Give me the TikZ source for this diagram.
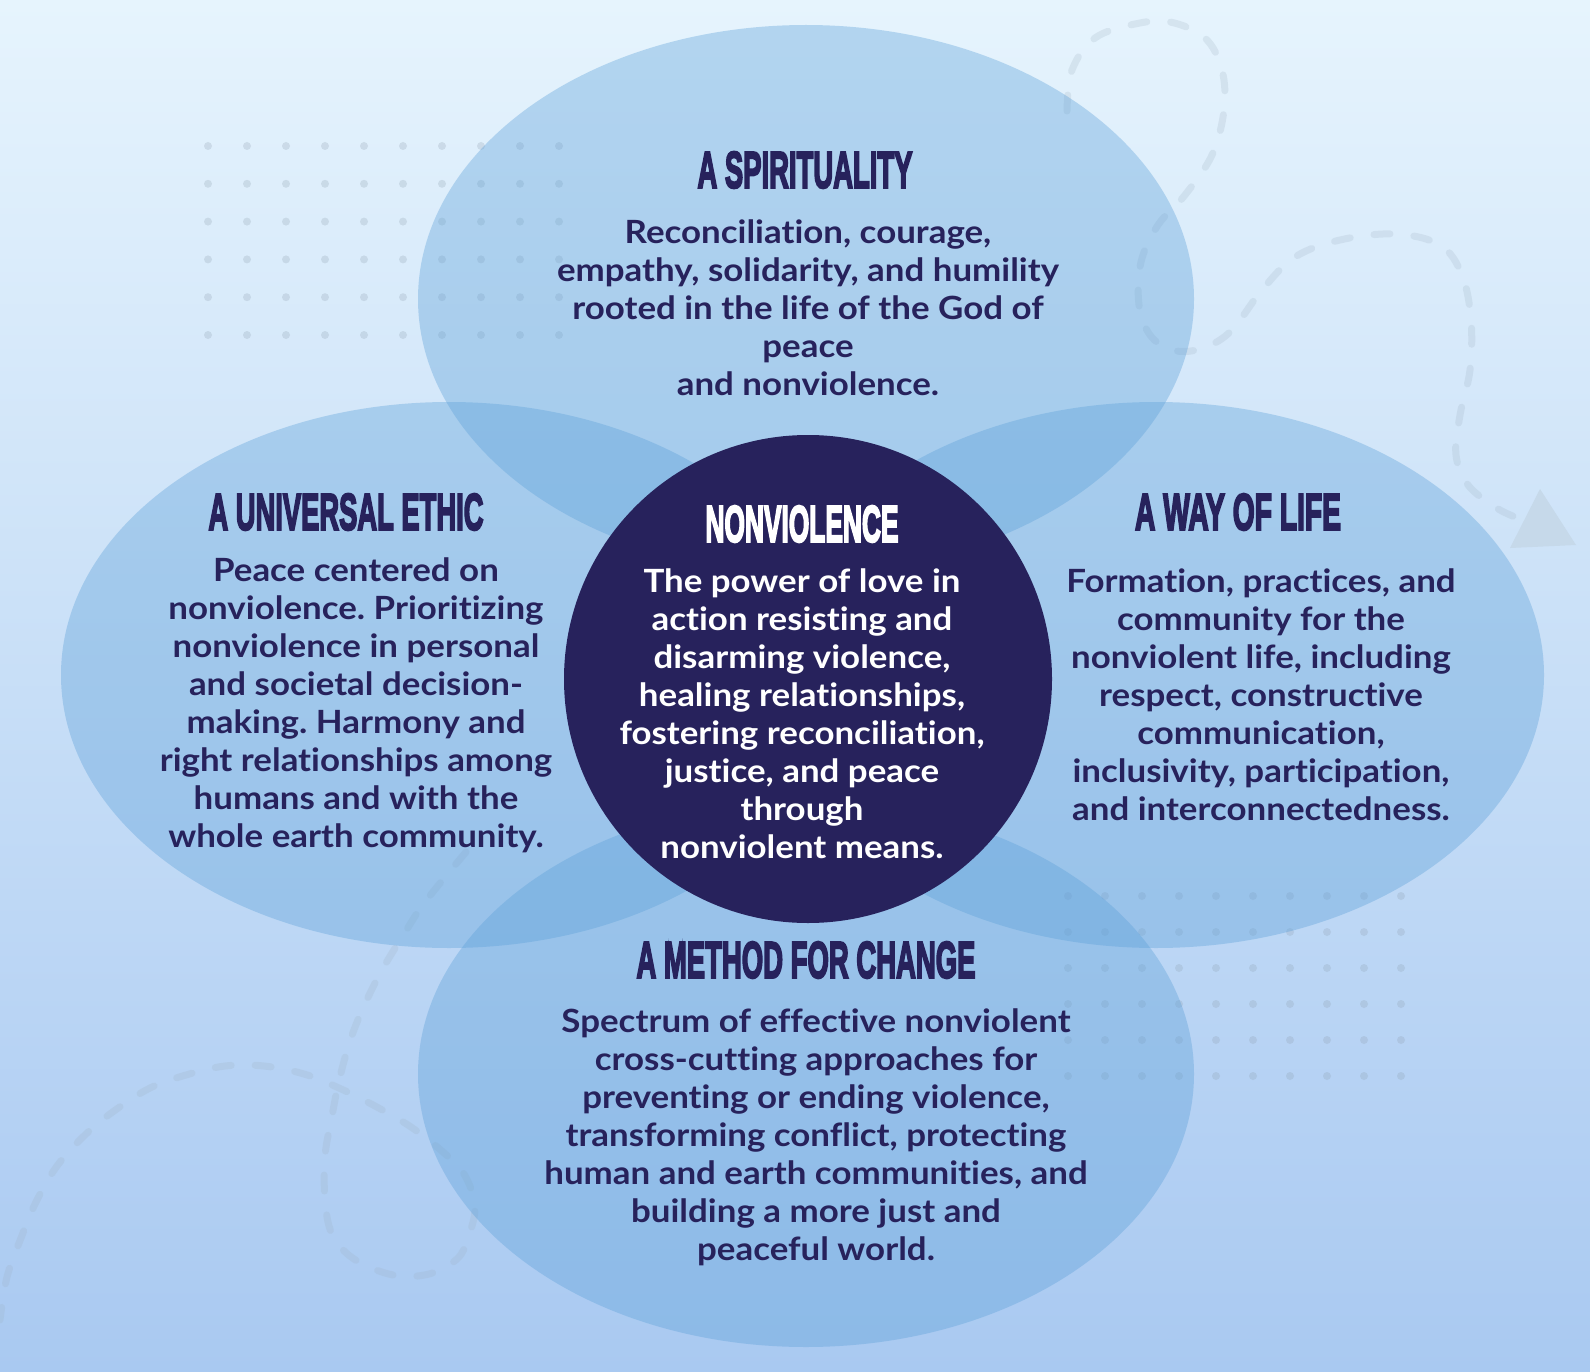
\documentclass[tikz,border=0pt]{standalone}
\usepackage{fontspec}
\usepackage{graphicx}
\setmainfont{Lato}[FakeStretch=1.09, Ligatures={NoCommon}]
\newfontfamily\headfont{Liberation Sans}[BoldFeatures={FakeBold=4.5}]
\frenchspacing
\definecolor{bgtop}{HTML}{E6F4FD}
\definecolor{bgbot}{HTML}{A9C9F1}
\definecolor{navy}{HTML}{27225C}
\definecolor{vennc}{HTML}{5A9FD8}
\definecolor{dashc}{HTML}{9DB0C0}
\definecolor{dotc}{HTML}{8E9FAF}
\definecolor{tric}{HTML}{C6D9EA}
\newcommand\hd[2]{\resizebox{#1}{36pt}{\headfont\bfseries #2}}
\tikzset{
  venn/.style={fill=vennc, fill opacity=0.36},
  dashpath/.style={draw=dashc, draw opacity=0.22, line width=7pt, line cap=round, dash pattern=on 16pt off 24pt},
  headtxt/.style={inner sep=0pt, text=navy, anchor=center},
  body/.style={font=\fontsize{32}{38}\selectfont\bfseries\frenchspacing, text=navy, align=center, inner sep=0pt, anchor=base},
  bgdot/.style={fill=dotc, fill opacity=0.25}
}
\begin{document}
\begin{tikzpicture}[x=1pt,y=-1pt]
\useasboundingbox (0,0) rectangle (1590,1372);
\shade[top color=bgtop, bottom color=bgbot] (0,0) rectangle (1590,1372);

% dashed decorative paths
\draw[dashpath] plot[smooth, tension=0.6] coordinates {(1067,111) (1072,70) (1095,38) (1135,24) (1170,22) (1205,38) (1222,70) (1224,110) (1212,155) (1185,195) (1158,225) (1141,262) (1139,305) (1150,335) (1172,350) (1200,349) (1230,332) (1262,290) (1295,257) (1340,240) (1395,234) (1440,245) (1462,275) (1471,320) (1470,370) (1460,415) (1456,455) (1468,485) (1495,507) (1515,517)};
\draw[dashpath] plot[smooth, tension=0.6] coordinates {(466,852) (425,902) (404,934) (382,970) (364,1006) (350,1041) (339,1081) (332,1116) (325,1156) (325,1199) (332,1234) (354,1259) (393,1275) (429,1274) (457,1259) (468,1238) (475,1206) (464,1174) (443,1152) (411,1127) (375,1106) (339,1088) (304,1074) (264,1066) (225,1066) (186,1075) (150,1088) (114,1111) (86,1134) (57,1166) (36,1202) (21,1238) (7,1277) (0,1320)};
\fill[tric] (1540,489) -- (1576,545) -- (1510,548) -- cycle;

% dot grids
\foreach \i in {0,...,9} \foreach \j in {0,...,5}
  \fill[bgdot] (208+39*\i, 146+37.8*\j) circle[radius=4pt];
\foreach \i in {0,...,9} \foreach \j in {0,...,5}
  \fill[bgdot] (1068+37*\i, 896+36*\j) circle[radius=4pt];

% four ellipses
\fill[venn] (806,299) ellipse[x radius=388pt, y radius=274pt];
\fill[venn] (449,675) ellipse[x radius=388pt, y radius=273pt];
\fill[venn] (1156,675) ellipse[x radius=388pt, y radius=273pt];
\fill[venn] (806,1074) ellipse[x radius=388pt, y radius=273pt];

% centre circle
\node[circle, fill=navy, minimum size=488pt, inner sep=0pt] (core) at (808,679) {};

% headings
\node[headtxt] (h1) at (805,170) {\hd{215pt}{A SPIRITUALITY}};
\node[headtxt] (h2) at (346,512) {\hd{275pt}{A UNIVERSAL ETHIC}};
\node[headtxt, text=white] (h0) at (802,524) {\hd{193pt}{NONVIOLENCE}};
\node[headtxt] (h3) at (1238,512) {\hd{206pt}{A WAY OF LIFE}};
\node[headtxt] (h4) at (806,960) {\hd{339pt}{A METHOD FOR CHANGE}};

% body texts (anchor base = baseline of last line)
\node[body] (t1) at (808,395) {Reconciliation, courage,\\empathy, solidarity, and humility\\rooted in the life of the God of\\peace\\and nonviolence.};
\node[body] (t2) at (356,847) {Peace centered on\\nonviolence. Prioritizing\\nonviolence in personal\\and societal decision-\\making. Harmony and\\right relationships among\\humans and with the\\whole earth community.};
\node[body, text=white] (t0) at (802,858) {The power of love in\\action resisting and\\disarming violence,\\healing relationships,\\fostering reconciliation,\\justice, and peace\\through\\nonviolent means.};
\node[body] (t3) at (1261,820) {Formation, practices, and\\community for the\\nonviolent life, including\\respect, constructive\\communication,\\inclusivity, participation,\\and interconnectedness.};
\node[body] (t4) at (816,1260) {Spectrum of effective nonviolent\\cross-cutting approaches for\\preventing or ending violence,\\transforming conflict, protecting\\human and earth communities, and\\building a more just and\\peaceful world.};
\end{tikzpicture}
\end{document}
